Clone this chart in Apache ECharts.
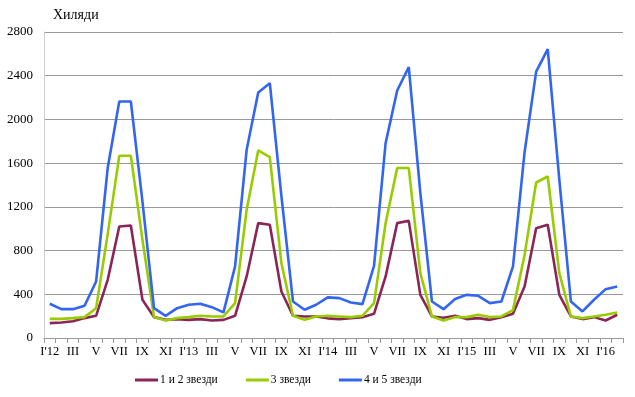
<!DOCTYPE html>
<html><head><meta charset="utf-8">
<script src="https://cdn.jsdelivr.net/npm/echarts@6/dist/echarts.min.js"></script>
<style>html,body{margin:0;padding:0;background:#fff}#c{width:635px;height:397px}</style>
</head><body><div id="c"></div>
<script>
const categories = [
 "I'12","II","III","IV","V","VI","VII","VIII","IX","X","XI","XII",
 "I'13","II","III","IV","V","VI","VII","VIII","IX","X","XI","XII",
 "I'14","II","III","IV","V","VI","VII","VIII","IX","X","XI","XII",
 "I'15","II","III","IV","V","VI","VII","VIII","IX","X","XI","XII",
 "I'16","II"];
const stars12 = [
 136,142,154,182,203,532,1020,1030,350,191,166,173,
 166,173,160,166,203,563,1051,1036,425,203,197,197,
 180,173,182,191,221,563,1051,1072,395,197,185,203,
 173,182,166,191,221,471,1005,1036,395,197,173,191,
 160,213];
const stars3 = [
 175,175,182,191,273,950,1667,1667,900,191,160,182,
 191,203,197,197,319,1173,1716,1655,685,203,166,197,
 203,197,191,203,319,1051,1555,1555,594,197,160,191,
 191,213,191,197,255,760,1423,1478,594,197,182,197,
 213,234];
const stars45 = [
 313,264,264,295,517,1555,2164,2164,1250,273,203,273,
 304,313,282,234,655,1722,2247,2332,1300,334,258,304,
 372,365,325,310,661,1783,2265,2479,1326,334,264,356,
 395,386,319,334,655,1700,2438,2643,1450,334,243,350,
 447,471];
const seriesNames = ['1 и 2 звезди','3 звезди','4 и 5 звезди'];
const yTicks = {min:0, max:2800, interval:400};

const font = '"Liberation Serif","DejaVu Serif",serif';
const chart = echarts.init(document.getElementById('c'), null, {renderer:'canvas'});
const mk = (name, data, color) => ({
  name, type:'line', data, symbol:'none', smooth:false,
  lineStyle:{color, width:2.6}, itemStyle:{color}
});
chart.setOption({
  animation:false,
  backgroundColor:'#fff',
  textStyle:{fontFamily:font},
  grid:{left:44, right:12, top:32, bottom:59, containLabel:false},
  title:{text:'Хиляди', left:48, top:3, textStyle:{fontFamily:font, fontSize:14, fontWeight:'normal', color:'#000'}},
  legend:{
    bottom:6, left:130, itemGap:28, itemWidth:23, itemHeight:3, icon:'rect',
    textStyle:{fontFamily:font, fontSize:11.5, color:'#000', padding:[0,0,0,-3]},
    data:seriesNames
  },
  xAxis:{
    type:'category', data:categories, boundaryGap:true,
    axisLine:{lineStyle:{color:'#999', width:1}},
    axisTick:{show:true, interval:0, length:5, lineStyle:{color:'#999'}},
    axisLabel:{interval:1, color:'#000', fontFamily:font, fontSize:12.5, margin:7}
  },
  yAxis:{
    type:'value', min:yTicks.min, max:yTicks.max, interval:yTicks.interval,
    axisLine:{show:true, lineStyle:{color:'#ccc'}},
    axisTick:{show:false},
    splitLine:{lineStyle:{color:'#999', width:1}},
    axisLabel:{color:'#000', fontFamily:font, fontSize:13, margin:11, formatter:v => String(v)}
  },
  series:[
    mk(seriesNames[0], stars12, '#8B2557'),
    mk(seriesNames[1], stars3, '#99CC00'),
    mk(seriesNames[2], stars45, '#3366F0')
  ]
});
</script></body></html>
